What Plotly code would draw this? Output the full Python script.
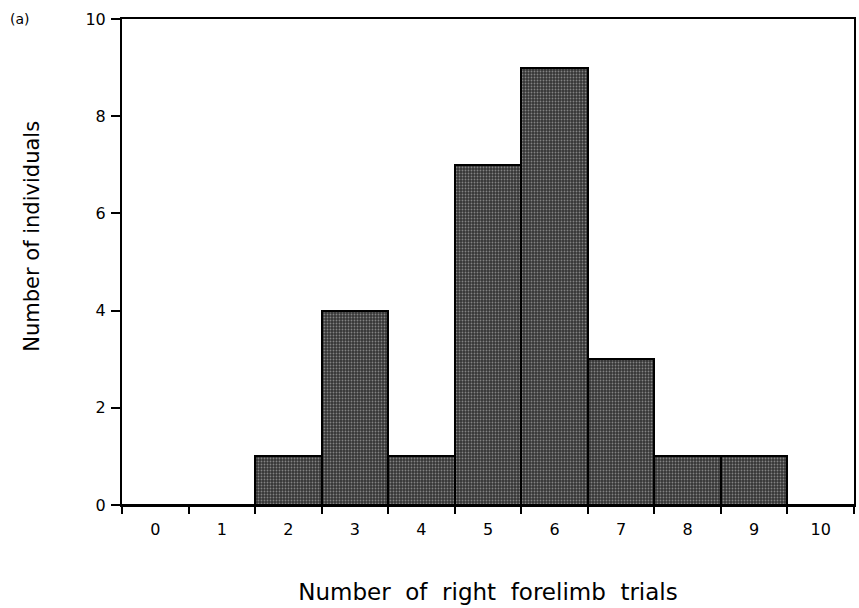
import plotly.graph_objects as go

categories = ["0", "1", "2", "3", "4", "5", "6", "7", "8", "9", "10"]
counts = [0, 0, 1, 4, 1, 7, 9, 3, 1, 1, 0]
y_ticks = [0, 2, 4, 6, 8, 10]

fig = go.Figure(go.Bar(
    x=categories, y=counts,
    marker=dict(color="#4a4a4a",
                line=dict(color="black", width=2),
                pattern=dict(shape=".", fgcolor="#d0d0d0", bgcolor="#353535",
                             size=3, solidity=0.3)),
))

fig.update_layout(
    width=859, height=608,
    margin=dict(l=122, r=3, t=19, b=103),
    plot_bgcolor="white", paper_bgcolor="white",
    bargap=0, showlegend=False,
    font=dict(family="DejaVu Sans", color="black"),
    annotations=[
        dict(text="(a)", xref="paper", yref="paper", x=-0.140, y=1.0,
             xanchor="center", yanchor="middle", showarrow=False,
             font=dict(size=14)),
        dict(text="Number of individuals", xref="paper", yref="paper",
             x=-0.123, y=0.554, textangle=-90, xanchor="center", yanchor="middle",
             showarrow=False, font=dict(size=21)),
    ],
)
fig.update_xaxes(type="category", tickson="boundaries", ticks="outside", ticklen=7,
                 tickwidth=1.5, tickcolor="black", showline=True, linecolor="black",
                 linewidth=2, mirror=True, showgrid=False,
                 tickfont=dict(size=16), ticklabelstandoff=9,
                 title=dict(text="Number  of  right  forelimb  trials", font=dict(size=23),
                            standoff=46))
fig.update_yaxes(range=[0, 10], tickvals=y_ticks, ticks="outside", ticklen=9,
                 tickwidth=1.5, tickcolor="black", showline=True, linecolor="black",
                 linewidth=2, mirror=True, showgrid=False, zeroline=False,
                 tickfont=dict(size=16), ticklabelstandoff=2)

fig.write_html("out.html")
